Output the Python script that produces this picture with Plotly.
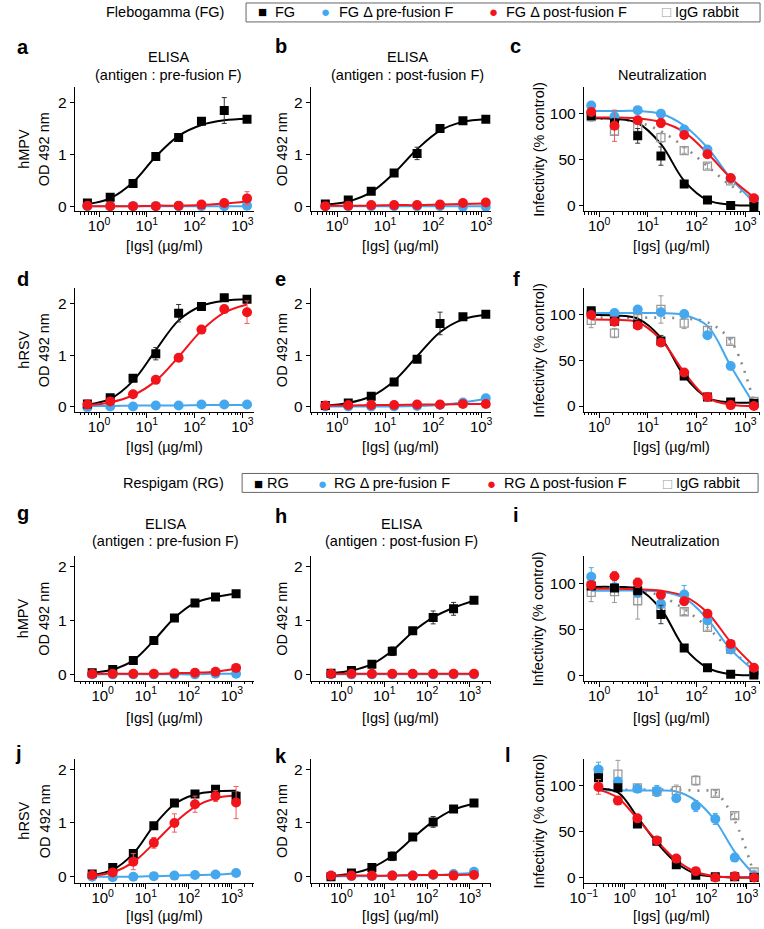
import plotly.graph_objects as go

# ---------------- data ----------------
X_ELISA = [0.57, 1.71, 5.14, 15.4, 46.3, 139, 417, 1250]
X_NEUT = [0.686, 2.06, 6.17, 18.5, 55.6, 167, 500, 1500]
X_NEUT_L = [0.229, 0.686, 2.06, 6.17, 18.5, 55.6, 167, 500, 1500]

ELISA_TICKS = [0, 1, 2]
NEUT_TICKS = [0, 50, 100]
X_TICKS = [1, 10, 100, 1000]
X_TICK_TEXT = ["10<sup>0</sup>", "10<sup>1</sup>", "10<sup>2</sup>", "10<sup>3</sup>"]
X_TICKS_L = [0.1, 1, 10, 100, 1000]
X_TICK_TEXT_L = ["10<sup>−1</sup>", "10<sup>0</sup>", "10<sup>1</sup>", "10<sup>2</sup>", "10<sup>3</sup>"]

# panel a  (hMPV, pre-fusion F ELISA, Flebogamma)
A_FG = [0.06, 0.17, 0.44, 0.96, 1.33, 1.64, 1.85, 1.68]
A_FG_ERR = [0.02, 0.02, 0.03, 0.04, 0.05, 0.04, 0.25, 0.03]
A_FG_FIT = [0.04, 0.15, 0.46, 0.96, 1.36, 1.57, 1.66, 1.69]
A_PRE = [0.0, 0.0, 0.0, 0.0, 0.0, 0.0, 0.0, 0.01]
A_PRE_ERR = [0, 0, 0, 0, 0, 0, 0, 0.01]
A_PRE_FIT = [0.0, 0.0, 0.0, 0.0, 0.0, 0.0, 0.0, 0.0]
A_POST = [0.01, 0.0, 0.0, 0.0, 0.01, 0.03, 0.06, 0.15]
A_POST_ERR = [0, 0, 0, 0, 0, 0.01, 0.03, 0.13]
A_POST_FIT = [0.0, 0.0, 0.0, 0.01, 0.01, 0.02, 0.05, 0.09]

# panel b  (hMPV, post-fusion F ELISA, Flebogamma)
B_FG = [0.04, 0.12, 0.29, 0.64, 1.02, 1.5, 1.65, 1.68]
B_FG_ERR = [0.02, 0.03, 0.03, 0.03, 0.12, 0.03, 0.03, 0.03]
B_FG_FIT = [0.03, 0.09, 0.27, 0.64, 1.1, 1.46, 1.63, 1.68]
B_PRE = [0.0, 0.0, 0.0, 0.0, 0.0, 0.0, -0.01, -0.01]
B_PRE_ERR = [0, 0, 0, 0, 0, 0, 0, 0]
B_PRE_FIT = [0.0, 0.0, 0.0, 0.0, 0.0, 0.0, 0.0, 0.0]
B_POST = [0.0, 0.01, 0.02, 0.02, 0.02, 0.03, 0.06, 0.07]
B_POST_ERR = [0, 0, 0, 0, 0, 0, 0.01, 0.01]
B_POST_FIT = [0.01, 0.01, 0.01, 0.02, 0.02, 0.03, 0.04, 0.05]

# panel c  (hMPV neutralization, Flebogamma)
C_FG = [98, 90, 76, 54, 23.5, 6, 0, -1]
C_FG_ERR = [4, 5, 8, 10, 3, 2, 1, 1]
C_FG_FIT = [95, 94.5, 90, 67, 27, 6, 1, 0]
C_PRE = [109, 97, 104, 100, 83, 61, 29.6, 6]
C_PRE_ERR = [4, 3, 3, 3, 3, 3, 3, 2]
C_PRE_FIT = [103, 103, 103, 100, 87, 63, 30, 4]
C_POST = [102, 87, 93, 90, 77, 56, 30, 8]
C_POST_ERR = [4, 17, 4, 5, 3, 3, 3, 2]
C_POST_FIT = [96, 96, 95, 91, 80, 57, 30, 9]
C_IGG = [97, 81, 85, 74, 60, 43, 27, 6]
C_IGG_ERR = [5, 4, 4, 5, 3, 3, 3, 2]
C_IGG_FIT = [95, 94, 91, 81, 64, 43, 22, 7]

# panel d  (hRSV, pre-fusion F ELISA, Flebogamma)
D_FG = [0.05, 0.17, 0.55, 1.03, 1.82, 1.95, 2.12, 2.09]
D_FG_ERR = [0.02, 0.03, 0.04, 0.12, 0.17, 0.03, 0.04, 0.04]
D_FG_FIT = [0.04, 0.15, 0.5, 1.1, 1.68, 1.96, 2.06, 2.09]
D_PRE = [-0.02, 0.0, 0.0, 0.02, 0.02, 0.04, 0.04, 0.04]
D_PRE_ERR = [0, 0, 0, 0, 0, 0, 0, 0]
D_PRE_FIT = [0.01, 0.01, 0.02, 0.02, 0.02, 0.03, 0.03, 0.03]
D_POST = [0.04, 0.1, 0.24, 0.52, 0.95, 1.5, 1.9, 1.84]
D_POST_ERR = [0.02, 0.02, 0.03, 0.04, 0.05, 0.04, 0.04, 0.22]
D_POST_FIT = [0.03, 0.08, 0.22, 0.5, 0.97, 1.48, 1.83, 1.99]

# panel e  (hRSV, post-fusion F ELISA, Flebogamma)
E_FG = [0.02, 0.07, 0.2, 0.48, 0.92, 1.62, 1.75, 1.8]
E_FG_ERR = [0.02, 0.02, 0.03, 0.05, 0.05, 0.22, 0.03, 0.03]
E_FG_FIT = [0.02, 0.07, 0.2, 0.5, 0.98, 1.45, 1.7, 1.79]
E_PRE = [0.0, 0.0, 0.0, 0.0, 0.01, 0.03, 0.08, 0.16]
E_PRE_ERR = [0, 0, 0, 0, 0, 0, 0.01, 0.02]
E_PRE_FIT = [0.0, 0.0, 0.0, 0.0, 0.01, 0.03, 0.08, 0.15]
E_POST = [0.02, 0.03, 0.03, 0.03, 0.04, 0.04, 0.05, 0.05]
E_POST_ERR = [0, 0, 0, 0, 0, 0, 0, 0]
E_POST_FIT = [0.02, 0.02, 0.03, 0.03, 0.04, 0.04, 0.05, 0.05]

# panel f  (hRSV neutralization, Flebogamma)
F_FG = [104.7, 93, 90, 71.5, 33, 10, 4.3, 3]
F_FG_ERR = [3, 3, 3, 6, 3, 2, 1, 1]
F_FG_FIT = [100, 99.5, 96, 75, 33, 9, 4, 4]
F_PRE = [103, 102, 106, 103, 101, 77.6, 44, 2]
F_PRE_ERR = [3, 4, 3, 3, 3, 3, 3, 1]
F_PRE_FIT = [102, 102, 102, 102, 100, 88, 44, 2]
F_POST = [100, 92.5, 88.4, 69.7, 36.8, 10, 1, 0]
F_POST_ERR = [3, 4, 3, 3, 3, 2, 1, 1]
F_POST_FIT = [95, 94.5, 92, 73, 37, 9, 1.5, 0]
F_IGG = [94, 80, 96, 106, 91, 83, 71, 5]
F_IGG_ERR = [8, 5, 5, 15, 6, 4, 3, 2]
F_IGG_FIT = [97, 97, 97, 97, 96, 92, 72, 4]

# panel g  (hMPV, pre-fusion F ELISA, Respigam)
G_FG = [0.03, 0.09, 0.26, 0.63, 1.05, 1.33, 1.44, 1.5]
G_FG_ERR = [0.01, 0.01, 0.02, 0.02, 0.02, 0.02, 0.02, 0.02]
G_FG_FIT = [0.03, 0.09, 0.26, 0.63, 1.05, 1.33, 1.44, 1.5]
G_PRE = [0.0, 0.0, 0.0, 0.0, 0.0, 0.0, 0.01, 0.01]
G_PRE_ERR = [0, 0, 0, 0, 0, 0, 0, 0]
G_PRE_FIT = [0.0, 0.0, 0.0, 0.0, 0.0, 0.0, 0.01, 0.01]
G_POST = [0.01, 0.01, 0.01, 0.01, 0.02, 0.03, 0.05, 0.12]
G_POST_ERR = [0, 0, 0, 0, 0, 0, 0.01, 0.02]
G_POST_FIT = [0.01, 0.01, 0.01, 0.01, 0.02, 0.03, 0.05, 0.11]

# panel h  (hMPV, post-fusion F ELISA, Respigam)
H_FG = [0.02, 0.07, 0.19, 0.43, 0.81, 1.06, 1.22, 1.38]
H_FG_ERR = [0.01, 0.02, 0.05, 0.08, 0.04, 0.12, 0.12, 0.03]
H_FG_FIT = [0.02, 0.07, 0.19, 0.44, 0.79, 1.06, 1.24, 1.37]
H_PRE = [0.0, 0.0, 0.0, 0.0, 0.0, 0.0, 0.0, 0.0]
H_PRE_ERR = [0, 0, 0, 0, 0, 0, 0, 0]
H_PRE_FIT = [0.0, 0.0, 0.0, 0.0, 0.0, 0.0, 0.0, 0.0]
H_POST = [0.01, 0.01, 0.01, 0.01, 0.01, 0.01, 0.01, 0.01]
H_POST_ERR = [0, 0, 0, 0, 0, 0, 0, 0]
H_POST_FIT = [0.01, 0.01, 0.01, 0.01, 0.01, 0.01, 0.01, 0.01]

# panel i  (hMPV neutralization, Respigam)
I_FG = [97, 95, 92, 66, 29.6, 8, 1, 0]
I_FG_ERR = [3, 3, 3, 10, 3, 2, 1, 1]
I_FG_FIT = [96, 96, 94, 72, 30, 8, 1, 0]
I_PRE = [107, 95.7, 90, 77.6, 87.7, 59.6, 28, 2]
I_PRE_ERR = [10, 3, 5, 5, 10, 3, 3, 1]
I_PRE_FIT = [92, 92, 92, 91, 84, 61, 28, 5]
I_POST = [98, 107.6, 100.7, 87.4, 80.5, 66.8, 34, 8]
I_POST_ERR = [4, 5, 5, 4, 4, 3, 3, 2]
I_POST_FIT = [94, 94, 93.5, 92, 86, 68, 36, 10]
I_IGG = [90, 91, 81, 73, 69, 52, 28, 5]
I_IGG_ERR = [10, 12, 20, 4, 3, 3, 3, 2]
I_IGG_FIT = [96, 95, 93, 86, 72, 52, 27, 8]

# panel j  (hRSV, pre-fusion F ELISA, Respigam)
J_FG = [0.05, 0.17, 0.43, 0.95, 1.37, 1.54, 1.63, 1.5]
J_FG_ERR = [0.02, 0.02, 0.03, 0.04, 0.04, 0.03, 0.03, 0.08]
J_FG_FIT = [0.03, 0.13, 0.43, 0.95, 1.35, 1.53, 1.59, 1.6]
J_PRE = [0.0, -0.01, 0.0, 0.01, 0.02, 0.03, 0.04, 0.07]
J_PRE_ERR = [0, 0, 0, 0, 0, 0, 0, 0.01]
J_PRE_FIT = [0.0, 0.0, 0.0, 0.01, 0.02, 0.03, 0.04, 0.06]
J_POST = [0.03, 0.08, 0.28, 0.63, 1.0, 1.35, 1.5, 1.38]
J_POST_ERR = [0.02, 0.03, 0.15, 0.1, 0.17, 0.15, 0.1, 0.3]
J_POST_FIT = [0.02, 0.08, 0.27, 0.62, 1.0, 1.3, 1.46, 1.51]

# panel k  (hRSV, post-fusion F ELISA, Respigam)
K_FG = [0.0, 0.07, 0.17, 0.38, 0.74, 1.02, 1.26, 1.37]
K_FG_ERR = [0.01, 0.02, 0.04, 0.08, 0.03, 0.1, 0.03, 0.03]
K_FG_FIT = [0.01, 0.06, 0.17, 0.39, 0.72, 1.03, 1.25, 1.36]
K_PRE = [0.01, 0.01, 0.01, 0.02, 0.02, 0.03, 0.05, 0.09]
K_PRE_ERR = [0, 0, 0, 0, 0, 0, 0, 0.01]
K_PRE_FIT = [0.01, 0.01, 0.01, 0.02, 0.02, 0.03, 0.05, 0.07]
K_POST = [0.02, 0.02, 0.02, 0.02, 0.02, 0.04, 0.02, 0.03]
K_POST_ERR = [0, 0, 0, 0, 0, 0, 0, 0]
K_POST_FIT = [0.02, 0.02, 0.02, 0.02, 0.03, 0.03, 0.03, 0.04]

# panel l  (hRSV neutralization, Respigam)
L_FG = [109, 98, 58.5, 39.7, 14, 2.5, 0.7, 0.7, 0]
L_FG_ERR = [4, 3, 3, 3, 3, 2, 1, 1, 1]
L_FG_FIT = [97, 93, 66, 38, 16, 4, 1, 0, 0]
L_PRE = [118, 105, 97, 94.6, 86.6, 78, 64, 21.7, 2]
L_PRE_ERR = [8, 4, 3, 6, 3, 6, 6, 3, 1]
L_PRE_FIT = [95, 95, 95, 95, 94, 84, 62, 28, 3]
L_POST = [99, 84, 64.6, 40.4, 20.6, 6.9, 0, 1.4, 0]
L_POST_ERR = [8, 3, 3, 3, 3, 2, 1, 1, 1]
L_POST_FIT = [96, 87, 64, 40, 19, 6, 1.4, 0, 0]
L_IGG = [116, 113, 98, 94, 95, 106, 92, 67.5, 6]
L_IGG_ERR = [5, 15, 3, 3, 6, 5, 3, 3, 2]
L_IGG_FIT = [97, 96, 96, 96, 96, 95, 93, 62, 3]

# ---------------- styling / layout ----------------
W, H = 764, 929
FONT = "Liberation Sans, Arial, Helvetica, sans-serif"
BLACK = "#000000"
BLUE = "#45A8EF"
RED = "#F2141B"
GRAY = "#9A9A9A"

COLS = [(62, 245), (303, 487), (582, 762)]
ROWS = [(87, 212), (289, 413), (558, 683), (761, 886)]

STYLE = {
    "IgG": dict(symbol="square-open", size=8, color=GRAY, lw=1.3, err="#9A9A9A",
                fit=dict(color="#8A8A8A", width=2.6, dash="2px,7px")),
    "pre": dict(symbol="circle", size=10, color=BLUE, lw=0, err=BLUE,
                fit=dict(color=BLUE, width=2)),
    "FG": dict(symbol="square", size=9, color=BLACK, lw=0, err="#333333",
               fit=dict(color=BLACK, width=2)),
    "post": dict(symbol="circle", size=10, color=RED, lw=0, err="#F25A5A",
                 fit=dict(color=RED, width=2)),
}
ORDER = ["IgG", "pre", "FG", "post"]

PANELS = [
    dict(r=0, c=0, kind="E1", x=X_ELISA, s={"FG": (A_FG, A_FG_ERR, A_FG_FIT), "pre": (A_PRE, A_PRE_ERR, A_PRE_FIT), "post": (A_POST, A_POST_ERR, A_POST_FIT)}),
    dict(r=0, c=1, kind="E1", x=X_ELISA, s={"FG": (B_FG, B_FG_ERR, B_FG_FIT), "pre": (B_PRE, B_PRE_ERR, B_PRE_FIT), "post": (B_POST, B_POST_ERR, B_POST_FIT)}),
    dict(r=0, c=2, kind="N", x=X_NEUT, s={"FG": (C_FG, C_FG_ERR, C_FG_FIT), "pre": (C_PRE, C_PRE_ERR, C_PRE_FIT), "post": (C_POST, C_POST_ERR, C_POST_FIT), "IgG": (C_IGG, C_IGG_ERR, C_IGG_FIT)}),
    dict(r=1, c=0, kind="E1", x=X_ELISA, s={"FG": (D_FG, D_FG_ERR, D_FG_FIT), "pre": (D_PRE, D_PRE_ERR, D_PRE_FIT), "post": (D_POST, D_POST_ERR, D_POST_FIT)}),
    dict(r=1, c=1, kind="E1", x=X_ELISA, s={"FG": (E_FG, E_FG_ERR, E_FG_FIT), "pre": (E_PRE, E_PRE_ERR, E_PRE_FIT), "post": (E_POST, E_POST_ERR, E_POST_FIT)}),
    dict(r=1, c=2, kind="N", x=X_NEUT, s={"FG": (F_FG, F_FG_ERR, F_FG_FIT), "pre": (F_PRE, F_PRE_ERR, F_PRE_FIT), "post": (F_POST, F_POST_ERR, F_POST_FIT), "IgG": (F_IGG, F_IGG_ERR, F_IGG_FIT)}),
    dict(r=2, c=0, kind="E2", x=X_ELISA, s={"FG": (G_FG, G_FG_ERR, G_FG_FIT), "pre": (G_PRE, G_PRE_ERR, G_PRE_FIT), "post": (G_POST, G_POST_ERR, G_POST_FIT)}),
    dict(r=2, c=1, kind="E2", x=X_ELISA, s={"FG": (H_FG, H_FG_ERR, H_FG_FIT), "pre": (H_PRE, H_PRE_ERR, H_PRE_FIT), "post": (H_POST, H_POST_ERR, H_POST_FIT)}),
    dict(r=2, c=2, kind="N", x=X_NEUT, s={"FG": (I_FG, I_FG_ERR, I_FG_FIT), "pre": (I_PRE, I_PRE_ERR, I_PRE_FIT), "post": (I_POST, I_POST_ERR, I_POST_FIT), "IgG": (I_IGG, I_IGG_ERR, I_IGG_FIT)}),
    dict(r=3, c=0, kind="E2", x=X_ELISA, s={"FG": (J_FG, J_FG_ERR, J_FG_FIT), "pre": (J_PRE, J_PRE_ERR, J_PRE_FIT), "post": (J_POST, J_POST_ERR, J_POST_FIT)}),
    dict(r=3, c=1, kind="E2", x=X_ELISA, s={"FG": (K_FG, K_FG_ERR, K_FG_FIT), "pre": (K_PRE, K_PRE_ERR, K_PRE_FIT), "post": (K_POST, K_POST_ERR, K_POST_FIT)}),
    dict(r=3, c=2, kind="NL", x=X_NEUT_L, s={"FG": (L_FG, L_FG_ERR, L_FG_FIT), "pre": (L_PRE, L_PRE_ERR, L_PRE_FIT), "post": (L_POST, L_POST_ERR, L_POST_FIT), "IgG": (L_IGG, L_IGG_ERR, L_IGG_FIT)}),
]

XRANGE = {
    ("E1", 0): [-0.51, 3.24], ("E1", 1): [-0.55, 3.2],
    ("E2", 0): [-0.65, 3.51], ("E2", 1): [-0.72, 3.49],
    ("N", 2): [-0.316, 3.302], ("NL", 2): [-1.0, 3.32],
}
YRANGE = {"E1": [-0.1, 2.31], "E2": [-0.12, 2.2], "N": [-6.2, 129.5], "NL": [-6.2, 130]}

MINOR = [m * 10.0 ** k for k in range(-2, 5) for m in range(2, 10)]

fig = go.Figure()
layout = {}

for i, p in enumerate(PANELS, start=1):
    xa, ya = f"x{i}", f"y{i}"
    c0, c1 = COLS[p["c"]]
    r0, r1 = ROWS[p["r"]]
    kind = p["kind"]
    neut = kind in ("N", "NL")
    for key in ORDER:
        if key not in p["s"]:
            continue
        vals, err, fit = p["s"][key]
        st = STYLE[key]
        fig.add_trace(go.Scatter(x=p["x"], y=fit, mode="lines", xaxis=xa, yaxis=ya,
                                 line=dict(shape="spline", smoothing=1.0, **st["fit"]),
                                 showlegend=False, hoverinfo="skip"))
    for key in ORDER:
        if key not in p["s"]:
            continue
        vals, err, fit = p["s"][key]
        st = STYLE[key]
        fig.add_trace(go.Scatter(
            x=p["x"], y=vals, mode="markers", xaxis=xa, yaxis=ya,
            marker=dict(symbol=st["symbol"], size=st["size"], color=st["color"],
                        line=dict(color=st["color"], width=st["lw"])),
            error_y=dict(type="data", array=err, visible=True, color=st["err"],
                         thickness=1, width=2.5),
            showlegend=False, hoverinfo="skip"))

    if kind == "NL":
        tv, tt = X_TICKS_L, X_TICK_TEXT_L
    else:
        tv, tt = X_TICKS, X_TICK_TEXT
    layout[f"xaxis{i}"] = dict(
        type="log", range=XRANGE[(kind, p["c"])], domain=[c0 / W, c1 / W], anchor=ya,
        showline=True, linecolor="black", linewidth=1, mirror=False,
        ticks="outside", ticklen=5, tickwidth=1, tickcolor="black",
        tickmode="array", tickvals=tv, ticktext=tt, ticklabelstandoff=-4,
        minor=dict(ticks="outside", ticklen=2.5, tickwidth=1, tickcolor="black",
                   tickmode="array", tickvals=MINOR, showgrid=False),
        showgrid=False, zeroline=False,
        tickfont=dict(size=15, color="black", family=FONT),
    )
    layout[f"yaxis{i}"] = dict(
        range=YRANGE[kind], domain=[1 - r1 / H, 1 - r0 / H], anchor=xa,
        showline=True, linecolor="black", linewidth=1,
        ticks="outside", ticklen=4, tickwidth=1, tickcolor="black",
        tickmode="array", tickvals=NEUT_TICKS if neut else ELISA_TICKS,
        showgrid=False, zeroline=False,
        tickfont=dict(size=15.5, color="black", family=FONT),
    )

annotations = []


def ann(text, px, py, size=14.5, xanchor="center", angle=0, color="black"):
    annotations.append(dict(text=text, x=px / W, y=1 - py / H, xref="paper", yref="paper",
                            showarrow=False, xanchor=xanchor, yanchor="middle",
                            textangle=angle, font=dict(size=size, color=color, family=FONT)))


LETTERS = [("a", 9, 47), ("b", 273, 46), ("c", 512, 46),
           ("d", 9, 280), ("e", 272, 280), ("f", 513, 280),
           ("g", 9, 515), ("h", 273, 518), ("i", 513, 517),
           ("j", 5, 755), ("k", 273, 758), ("l", 505, 757)]
for t, px, py in LETTERS:
    ann(f"<b>{t}</b>", px, py, size=20)

ann("ELISA", 158, 57); ann("(antigen : pre-fusion F)", 158, 75)
ann("ELISA", 402, 57); ann("(antigen : post-fusion F)", 402, 75)
ann("Neutralization", 662, 75)
ann("ELISA", 155, 526); ann("(antigen : pre-fusion F)", 155, 543)
ann("ELISA", 396, 526); ann("(antigen : post-fusion F)", 396, 543)
ann("Neutralization", 676, 543)

XT_Y = [247, 448, 720, 919]
for r in range(4):
    for c in range(3):
        ann("[Igs] (µg/ml)", (COLS[c][0] + COLS[c][1]) / 2, XT_Y[r])
    mid = (ROWS[r][0] + ROWS[r][1]) / 2
    ann("hMPV" if r in (0, 2) else "hRSV", 10, mid, angle=-90)
    ann("OD 492 nm", 31, mid, angle=-90)
    ann("OD 492 nm", 274, mid, angle=-90)
    ann("Infectivity (% control)", 536, mid, angle=-90)

shapes = []
LEGENDS = [
    dict(title="Flebogamma (FG)", ty=12, box=(237, 3, 762, 22), items=[
        ("■", BLACK, 254, "FG", 265),
        ("●", BLUE, 318, "FG Δ pre-fusion F", 330),
        ("●", RED, 490, "FG Δ post-fusion F", 500),
        ("□", GRAY, 666, "IgG rabbit", 673)]),
    dict(title="Respigam (RG)", ty=485, box=(233, 475, 760, 494), items=[
        ("■", BLACK, 250, "RG", 256),
        ("●", BLUE, 315, "RG Δ pre-fusion F", 325),
        ("●", RED, 488, "RG Δ post-fusion F", 498),
        ("□", GRAY, 667, "IgG rabbit", 674)]),
]
for lg in LEGENDS:
    x0, y0, x1, y1 = lg["box"]
    shapes.append(dict(type="rect", xref="paper", yref="paper", x0=x0 / W, x1=x1 / W,
                       y0=1 - y1 / H, y1=1 - y0 / H, line=dict(color="#666666", width=1)))
    ann(lg["title"], 217, lg["ty"], size=14.5, xanchor="right")
    for glyph, col, gx, label, lx in lg["items"]:
        ann(glyph, gx, lg["ty"], size=15, color=col)
        ann(label, lx, lg["ty"], size=14.5, xanchor="left")

fig.update_layout(
    width=W, height=H, margin=dict(l=0, r=0, t=0, b=0),
    paper_bgcolor="white", plot_bgcolor="white",
    font=dict(family=FONT, size=14.5, color="black"),
    showlegend=False, annotations=annotations, shapes=shapes,
    **layout,
)

fig.write_html("out.html", config={"displayModeBar": False},
               post_script="document.body.style.margin='0px';document.body.style.overflow='hidden';")
